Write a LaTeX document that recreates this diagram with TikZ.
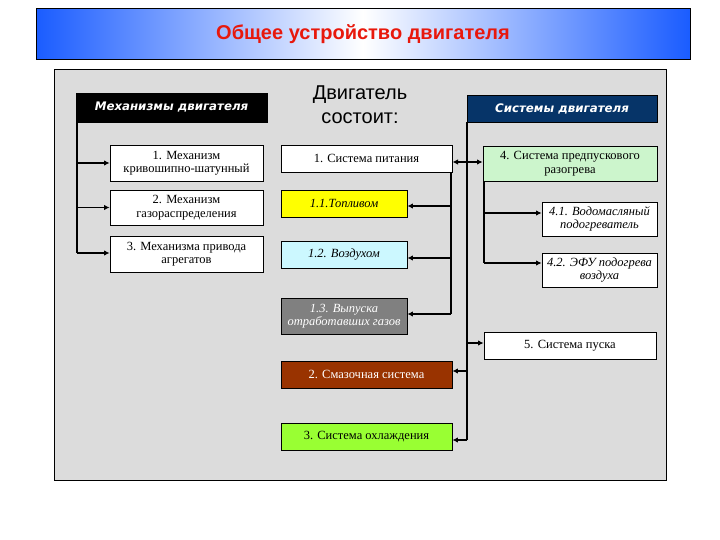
\documentclass[tikz,border=0pt]{standalone}
\usepackage{fontspec}
\setmainfont{Liberation Serif}
\newfontfamily\sansf{Liberation Sans}
\newfontfamily\wides{DejaVu Sans}
\usetikzlibrary{arrows.meta}
\definecolor{panelgray}{HTML}{DCDCDC}
\definecolor{titleblue}{HTML}{1A5CFF}
\definecolor{titlered}{HTML}{E8180C}
\definecolor{navy}{HTML}{063468}
\definecolor{paleGreen}{HTML}{CCF5CC}
\definecolor{paleCyan}{HTML}{CCF8FF}
\definecolor{fuelYellow}{HTML}{FFFF00}
\definecolor{exhaustGray}{HTML}{808080}
\definecolor{oilBrown}{HTML}{993300}
\definecolor{coolGreen}{HTML}{99FF33}
\tikzset{
  box/.style={draw=black, line width=0.8pt, fill=white, inner sep=1pt, align=center,
    font=\fontsize{12.5}{13.5}\selectfont},
  itbox/.style={box, font=\itshape\fontsize{12.5}{13.5}\selectfont},
  headbox/.style={draw=black, line width=0.6pt, inner sep=1pt, align=center, text=white,
    font=\wides\bfseries\itshape\fontsize{11.8}{13}\selectfont},
  spine/.style={line width=1.1pt, draw=black},
  conn/.style={line width=1.5pt, draw=black},
  arr/.style={conn, -{Latex[length=5.5pt,width=5.5pt]}},
  darr/.style={conn, {Latex[length=5.5pt,width=5.5pt]}-{Latex[length=5.5pt,width=5.5pt]}},
}
\begin{document}
\begin{tikzpicture}[x=1pt,y=-1pt]
\useasboundingbox (0,0) rectangle (720,540);
\fill[white] (0,0) rectangle (720,540);
% title
\shade[left color=titleblue, right color=titleblue, middle color=white] (36,9) rectangle (690,60);
\draw[line width=1pt] (36,9) rectangle (690,60);
\node (title) at (363,34) {\sansf\bfseries\fontsize{20}{24}\selectfont\color{titlered}Общее устройство двигателя};
% panel
\draw[fill=panelgray, line width=1pt] (54,70) rectangle (666,480);
% headers
\node[headbox, fill=black, minimum width=191pt, minimum height=29pt] (mhead) at (171.5,107.5) {Механизмы двигателя};
\node[headbox, fill=navy, minimum width=190pt, minimum height=27pt] (shead) at (562,108.5) {Системы двигателя};
\node[align=center, font=\sansf\fontsize{20}{24}\selectfont] (engine) at (360,105) {Двигатель\\состоит:};
% left mechanisms
\node[box, minimum width=153pt, minimum height=36pt] (m1) at (186.5,163) {1. Механизм\\кривошипно-шатунный};
\node[box, minimum width=153pt, minimum height=35pt] (m2) at (186.5,207.5) {2. Механизм\\газораспределения};
\node[box, minimum width=153pt, minimum height=36pt] (m3) at (186.5,254) {3. Механизма привода\\агрегатов};
% centre systems
\node[box, minimum width=171pt, minimum height=27pt] (s1) at (366.5,158.5) {1. Система питания};
\node[itbox, fill=fuelYellow, minimum width=126pt, minimum height=27pt] (s11) at (344,203.5) {1.1.Топливом};
\node[itbox, fill=paleCyan, minimum width=126pt, minimum height=27pt] (s12) at (344,254.5) {1.2. Воздухом};
\node[itbox, fill=exhaustGray, text=white, minimum width=126pt, minimum height=36pt] (s13) at (344,316) {1.3. Выпуска\\отработавших газов};
\node[box, fill=oilBrown, text=white, minimum width=171pt, minimum height=27pt] (s2) at (366.5,374.5) {2. Смазочная система};
\node[box, fill=coolGreen, minimum width=171pt, minimum height=27pt] (s3) at (366.5,436.5) {3. Система охлаждения};
% right systems
\node[box, fill=paleGreen, minimum width=174pt, minimum height=35pt] (s4) at (570,163.5) {4. Система предпускового\\разогрева};
\node[itbox, minimum width=115pt, minimum height=34pt] (s41) at (599.5,219) {4.1. Водомасляный\\подогреватель};
\node[itbox, minimum width=115pt, minimum height=34pt] (s42) at (599.5,270) {4.2. ЭФУ подогрева\\воздуха};
\node[box, minimum width=172pt, minimum height=27pt] (s5) at (570,345.5) {5. Система пуска};
% left spine
\coordinate (lt) at (77,122);
\coordinate (lb) at (77,253);
\draw[spine] (lt) -- (lb);
\draw[arr] (lt |- m1.west) -- (m1.west);
\draw[arr] (lt |- m2.west) -- (m2.west);
\draw[arr] (lb) -- (lb -| m3.west);
% centre spine
\coordinate (ct) at (451,172);
\coordinate (c1) at (451,206);
\coordinate (c2) at (451,258);
\coordinate (cb) at (451,314);
\draw[spine] (ct) -- (cb);
\draw[arr] (c1) -- (c1 -| s11.east);
\draw[arr] (c2) -- (c2 -| s12.east);
\draw[arr] (cb) -- (cb -| s13.east);
% right spine
\coordinate (rt) at (467,122);
\coordinate (r5) at (467,343);
\coordinate (r2) at (467,371);
\coordinate (rb) at (467,440);
\draw[spine] (rt) -- (rb);
\draw[arr] (r5) -- (r5 -| s5.west);
\draw[arr] (r2) -- (r2 -| s2.east);
\draw[arr] (rb) -- (rb -| s3.east);
% double arrow
\coordinate (d1) at (452.5,162);
\draw[darr] (d1) -- (d1 -| s4.west);
% s4 spine
\coordinate (q0) at (484,181);
\coordinate (q1) at (484,213);
\coordinate (q2) at (484,263);
\draw[spine] (q0) -- (q2);
\draw[arr] (q1) -- (q1 -| s41.west);
\draw[arr] (q2) -- (q2 -| s42.west);
\end{tikzpicture}
\end{document}
